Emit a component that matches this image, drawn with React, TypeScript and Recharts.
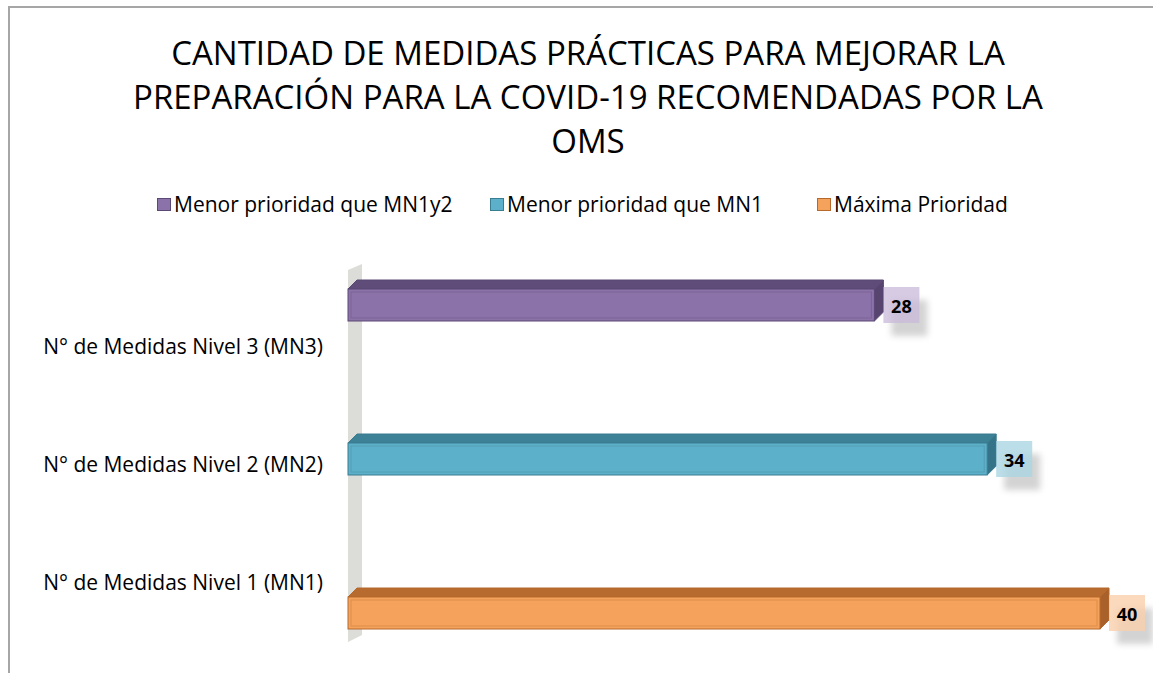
import React from 'react';
import { BarChart, Bar, XAxis, YAxis, LabelList } from 'recharts';

const categories = [
  'N° de Medidas Nivel 3 (MN3)',
  'N° de Medidas Nivel 2 (MN2)',
  'N° de Medidas Nivel 1 (MN1)',
];
const menorMN1y2 = [28, null, null];
const menorMN1 = [null, 34, null];
const maximaPrioridad = [null, null, 40];

const seriesNames = ['Menor prioridad que MN1y2', 'Menor prioridad que MN1', 'Máxima Prioridad'];

const data = categories.map((name, i) => ({
  name,
  mn1y2: menorMN1y2[i],
  mn1: menorMN1[i],
  maxima: maximaPrioridad[i],
}));

const FONT = '"Open Sans", sans-serif';
const DEPTH = 9;

const palette = {
  mn1y2: { front: '#8b72a9', top: '#5f4c79', side: '#574570', edge: '#5b4875', light: 'rgba(200,186,218,0.75)' },
  mn1: { front: '#5db0c9', top: '#3c8196', side: '#357488', edge: '#3a7d91', light: 'rgba(170,214,228,0.8)' },
  maxima: { front: '#f5a25c', top: '#b86b2e', side: '#a8612a', edge: '#b5692d', light: 'rgba(250,208,172,0.8)' },
};

type Colors = typeof palette.mn1;

const Bar3D = (props: any, c: Colors) => {
  const { x, y, width, height } = props;
  if (!width || width <= 0) return null;
  const d = DEPTH;
  return (
    <g>
      <polygon points={`${x},${y} ${x + d},${y - d} ${x + width + d},${y - d} ${x + width},${y}`} fill={c.top} stroke={c.edge} strokeWidth={1} />
      <polygon points={`${x + width},${y} ${x + width + d},${y - d} ${x + width + d},${y + height - d} ${x + width},${y + height}`} fill={c.side} stroke={c.edge} strokeWidth={1} />
      <rect x={x} y={y} width={width} height={height} fill={c.front} stroke={c.edge} strokeWidth={1} />
      <rect x={x + 3} y={y + 3} width={width - 6} height={height - 6} fill="none" stroke={c.edge} strokeOpacity={0.35} strokeWidth={1} />
    </g>
  );
};

const ValueBox = (props: any, c: Colors) => {
  const { x, y, width, value } = props;
  if (value == null) return null;
  const bx = x + width + DEPTH;
  const by = y - 2;
  const bw = 36;
  const bh = 36;
  return (
    <g>
      <rect x={bx + 8} y={by + 13} width={bw} height={bh} fill="#b0b0b0" opacity={0.55} style={{ filter: 'blur(3px)' }} />
      <rect x={bx} y={by} width={bw} height={bh} fill={c.light} />
      <text x={bx + bw / 2} y={by + bh / 2 + 1} textAnchor="middle" dominantBaseline="central" fontFamily={FONT} fontWeight={700} fontSize={18} fill="#000">
        {value}
      </text>
    </g>
  );
};

const CategoryTick = (props: any) => {
  const { x, y, payload } = props;
  return (
    <text x={x} y={y + 5} textAnchor="end" dominantBaseline="central" fontFamily={FONT} fontSize={21} fill="#000">
      {payload.value}
    </text>
  );
};

const legendItems = [
  { label: seriesNames[0], c: palette.mn1y2, left: 157 },
  { label: seriesNames[1], c: palette.mn1, left: 490 },
  { label: seriesNames[2], c: palette.maxima, left: 817 },
];

const PLOT_LEFT = 348;
const PLOT_TOP = 282;
const PLOT_BOTTOM = 636;
const PLOT_RIGHT = 1100;

export default function App() {
  return (
    <div style={{ position: 'fixed', left: 0, top: 0, width: 1153, height: 673, background: '#fff', fontFamily: FONT, overflow: 'hidden' }}>
      <div style={{ position: 'absolute', left: 8, top: 6, width: 1300, height: 800, borderLeft: '2px solid #a6a6a6', borderTop: '2px solid #a6a6a6' }} />
      <div style={{ position: 'absolute', left: 0, width: 1176, top: 31, textAlign: 'center', fontSize: 33, lineHeight: '44px', color: '#000' }}>
        CANTIDAD DE MEDIDAS PRÁCTICAS PARA MEJORAR LA
        <br />
        PREPARACIÓN PARA LA COVID-19 RECOMENDADAS POR LA
        <br />
        OMS
      </div>
      {legendItems.map((it) => (
        <div key={it.label} style={{ position: 'absolute', left: it.left, top: 190, height: 28, display: 'flex', alignItems: 'center', fontSize: 21, color: '#000', whiteSpace: 'nowrap' }}>
          <span style={{ display: 'inline-block', width: 12, height: 11, background: it.c.front, border: `1.5px solid ${it.c.edge}`, marginRight: 3 }} />
          {it.label}
        </div>
      ))}
      <svg style={{ position: 'absolute', left: 0, top: 0 }} width={1153} height={673}>
        <polygon
          points={`${PLOT_LEFT},${PLOT_TOP - 12} ${PLOT_LEFT + 14},${PLOT_TOP - 18} ${PLOT_LEFT + 14},${PLOT_BOTTOM - 1} ${PLOT_LEFT},${PLOT_BOTTOM + 6}`}
          fill="#dcdcd8"
        />
      </svg>
      <div style={{ position: 'absolute', left: 0, top: 0 }}>
        <BarChart
          width={1153}
          height={673}
          data={data}
          layout="vertical"
          margin={{ top: PLOT_TOP, right: 1153 - PLOT_RIGHT, bottom: 673 - PLOT_BOTTOM, left: 0 }}
          barCategoryGap={7}
          barGap={4}
          barSize={32}
        >
          <XAxis type="number" domain={[0, 40]} hide />
          <YAxis
            type="category"
            dataKey="name"
            width={PLOT_LEFT}
            axisLine={false}
            tickLine={false}
            tickSize={6}
            tickMargin={19}
            tick={CategoryTick}
          />
          <Bar dataKey="mn1y2" name={seriesNames[0]} isAnimationActive={false} shape={(p: any) => Bar3D(p, palette.mn1y2)}>
            <LabelList dataKey="mn1y2" content={(p: any) => ValueBox(p, palette.mn1y2)} />
          </Bar>
          <Bar dataKey="mn1" name={seriesNames[1]} isAnimationActive={false} shape={(p: any) => Bar3D(p, palette.mn1)}>
            <LabelList dataKey="mn1" content={(p: any) => ValueBox(p, palette.mn1)} />
          </Bar>
          <Bar dataKey="maxima" name={seriesNames[2]} isAnimationActive={false} shape={(p: any) => Bar3D(p, palette.maxima)}>
            <LabelList dataKey="maxima" content={(p: any) => ValueBox(p, palette.maxima)} />
          </Bar>
        </BarChart>
      </div>
    </div>
  );
}
